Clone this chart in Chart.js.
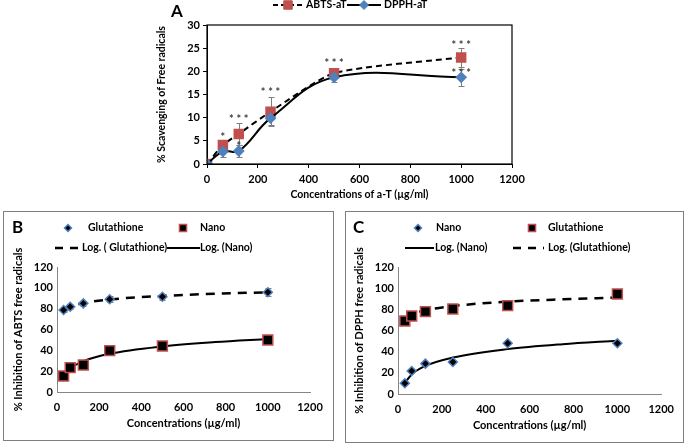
<!DOCTYPE html>
<html>
<head>
<meta charset="utf-8">
<script src="https://cdn.jsdelivr.net/npm/chart.js@4.4.1/dist/chart.umd.min.js"></script>
<style>
  body { margin: 0; background: #fff; width: 685px; height: 443px; position: relative; overflow: hidden; }
  canvas { display: block; }
  #boxA { position: absolute; left: 0; top: 0; }
  #boxB { position: absolute; left: 3px; top: 211px; width: 329px; height: 228px; border: 1px solid #7f7f7f; }
  #boxC { position: absolute; left: 345px; top: 211px; width: 337px; height: 230px; border: 1px solid #7f7f7f; }
</style>
</head>
<body>
<div id="boxA"><canvas id="chartA" width="685" height="205"></canvas></div>
<div id="boxB"><canvas id="chartB" width="329" height="228"></canvas></div>
<div id="boxC"><canvas id="chartC" width="337" height="230"></canvas></div>
<script>
// ==== Panneau A : alpha-tocopherol ====
const concA = [0, 62.5, 125, 250, 500, 1000];
const abtsA = [0, 4.1, 6.5, 11.3, 19.6, 23.0];
const abtsErrA = [0, 0.5, 2.3, 3.2, 1.1, 2.1];
const dpphA = [0, 2.7, 2.8, 9.9, 18.7, 18.7];
const dpphErrA = [0, 1.1, 1.3, 1.4, 1.1, 1.8];
const abtsStars = ['', '*', '***', '***', '***', '***'];
const abtsStarsY = [0, 6.3, 10.1, 16.0, 22.3, 26.1];
const dpphStars = ['', '', '*', '', '', '***'];
const dpphStarsY = [0, 0, 4.4, 0, 0, 20.1];

// ==== Panneaux B et C : concentrations ====
const concBC = [31.25, 62.5, 125, 250, 500, 1000];
const trendConc = [31.25, 62.5, 125, 250, 500, 750, 1000];

// B : ABTS
const glutB = [78.7, 81.9, 85.1, 89.0, 91.5, 95.7];
const glutErrB = [2, 2.5, 2.5, 3, 3, 4];
const nanoB = [15.4, 23.4, 25.9, 39.7, 44.2, 49.9];
const glutTrendB = [78.5, 81.9, 85.3, 88.8, 92.2, 94.3, 95.7];
const nanoTrendB = [15.5, 22.6, 29.6, 36.7, 43.8, 47.9, 50.8];

// C : DPPH
const nanoC = [10.1, 21.7, 28.7, 30.2, 47.9, 47.9];
const glutC = [69.0, 73.7, 77.8, 80.3, 83.5, 94.5];
const nanoTrendC = [10.5, 18.5, 26.5, 34.4, 42.4, 47.1, 50.4];
const glutTrendC = [71.0, 75.0, 79.1, 83.1, 87.2, 89.5, 91.2];

const ROUGE = '#C0504D';
const BLEU = '#4F81BD';
const POLICE = 'bold 10.5px Lato';

Chart.defaults.font.family = 'Lato';
Chart.defaults.font.weight = 'bold';
Chart.defaults.font.size = 10.5;
Chart.defaults.color = '#000';
Chart.defaults.animation = false;

function points(xs, ys) {
  return xs.map((v, i) => ({x: v, y: ys[i]}));
}

// barres d'erreur (derriere les marqueurs)
const barresErreur = {
  id: 'barresErreur',
  beforeDatasetsDraw(chart) {
    const {ctx, scales: {x, y}} = chart;
    ctx.save();
    ctx.strokeStyle = '#7f7f7f';
    ctx.lineWidth = 1;
    chart.data.datasets.forEach(ds => {
      if (!ds.erreurs) return;
      ds.data.forEach((p, i) => {
        const e = ds.erreurs[i];
        if (!e) return;
        const px = Math.round(x.getPixelForValue(p.x)) + 0.5;
        const yh = Math.round(y.getPixelForValue(p.y + e)) + 0.5;
        const yb = Math.round(y.getPixelForValue(p.y - e)) + 0.5;
        ctx.beginPath();
        ctx.moveTo(px, yh); ctx.lineTo(px, yb);
        ctx.moveTo(px - 3, yh); ctx.lineTo(px + 3, yh);
        ctx.moveTo(px - 3, yb); ctx.lineTo(px + 3, yb);
        ctx.stroke();
      });
    });
    ctx.restore();
  }
};

// legende dessinee a la main (style Excel)
const legende = {
  id: 'legende',
  afterDraw(chart, args, opts) {
    const ctx = chart.ctx;
    ctx.save();
    ctx.fillStyle = '#000';
    ctx.textBaseline = 'middle';
    if (opts.lettre) {
      ctx.font = 'bold 17px Lato';
      ctx.fillText(opts.lettre.texte, opts.lettre.x, opts.lettre.y);
    }
    (opts.items || []).forEach(it => {
      if (it.trait) {
        ctx.beginPath();
        ctx.setLineDash(it.trait.dash || []);
        ctx.lineWidth = it.trait.lw;
        ctx.strokeStyle = '#000';
        ctx.moveTo(it.trait.x1, it.y);
        ctx.lineTo(it.trait.x2, it.y);
        ctx.stroke();
        ctx.setLineDash([]);
      }
      if (it.marque) {
        const m = it.marque;
        ctx.fillStyle = m.fond;
        ctx.strokeStyle = m.bord;
        ctx.lineWidth = m.lw;
        Chart.helpers.drawPoint(ctx, {pointStyle: m.style, radius: m.r, borderWidth: m.lw, rotation: 0}, m.x, it.y);
      }
      ctx.font = POLICE;
      ctx.fillStyle = '#000';
      ctx.fillText(it.texte, it.tx, it.y);
    });
    ctx.restore();
  }
};

// ==== Graphique A ====
const cadreA = {
  id: 'cadreA',
  afterDraw(chart) {
    const {ctx, chartArea: {left, right, top, bottom}} = chart;
    ctx.save();
    ctx.strokeStyle = '#000';
    ctx.lineWidth = 1.2;
    ctx.strokeRect(left, top, right - left, bottom - top);
    ctx.restore();
  }
};

const etoiles = {
  id: 'etoiles',
  afterDatasetsDraw(chart) {
    const {ctx, scales: {x, y}} = chart;
    ctx.save();
    ctx.font = 'bold 11px Lato';
    ctx.fillStyle = '#404040';
    ctx.textAlign = 'center';
    ctx.textBaseline = 'alphabetic';
    [[abtsStars, abtsStarsY], [dpphStars, dpphStarsY]].forEach(([txt, pos]) => {
      txt.forEach((t, i) => {
        if (t) ctx.fillText(t.split('').join(' '), x.getPixelForValue(concA[i]), y.getPixelForValue(pos[i]) + 6);
      });
    });
    ctx.restore();
  }
};

new Chart(document.getElementById('chartA'), {
  type: 'scatter',
  data: {
    datasets: [
      {
        label: 'DPPH-aT', data: points(concA, dpphA), erreurs: dpphErrA, order: 0,
        showLine: true, tension: 0.4, borderColor: '#000', borderWidth: 2,
        pointStyle: 'rectRot', pointRadius: 4.5, pointBackgroundColor: BLEU, pointBorderColor: BLEU
      },
      {
        label: 'ABTS-aT', data: points(concA, abtsA), erreurs: abtsErrA, order: 1,
        showLine: true, tension: 0.2, borderColor: '#000', borderWidth: 2, borderDash: [6, 4],
        pointStyle: 'rect', pointRadius: 6, pointBackgroundColor: ROUGE, pointBorderColor: ROUGE
      }
    ]
  },
  options: {
    responsive: false,
    layout: {padding: {left: 155, right: 173, top: 25, bottom: 0}},
    plugins: {
      legend: {display: false},
      tooltip: {enabled: false},
      legende: {
        lettre: {texte: 'A', x: 171, y: 12},
        items: [
          {y: 5, trait: {x1: 273, x2: 303, lw: 2, dash: [5, 3]},
           marque: {style: 'rect', r: 6, x: 288, fond: ROUGE, bord: ROUGE, lw: 1}, texte: 'ABTS-aT', tx: 306},
          {y: 5, trait: {x1: 347, x2: 381, lw: 2},
           marque: {style: 'rectRot', r: 4.5, x: 364, fond: BLEU, bord: BLEU, lw: 1}, texte: 'DPPH-aT', tx: 384}
        ]
      }
    },
    scales: {
      x: {
        type: 'linear', min: 0, max: 1200,
        ticks: {stepSize: 200, padding: 5, font: {size: 11}, format: {useGrouping: false}},
        grid: {display: true, drawOnChartArea: false, drawTicks: true, tickLength: 4, color: '#000'},
        border: {color: '#000'},
        title: {display: true, text: 'Concentrations of a-T (µg/ml)', padding: {top: 0, bottom: 4}},
        afterFit(scale) { scale.height = 41; }
      },
      y: {
        min: 0, max: 30,
        ticks: {stepSize: 5, padding: 3, font: {size: 11}},
        grid: {display: true, drawOnChartArea: false, drawTicks: true, tickLength: 4, color: '#000'},
        border: {color: '#000'},
        title: {display: true, text: '% Scavenging of Free radicals', padding: {top: 0, bottom: 0}},
        afterFit(scale) { scale.width = 52; }
      }
    }
  },
  plugins: [barresErreur, etoiles, cadreA, legende]
});

// ==== Graphiques B et C ====
function axesBC(titreY, hauteurX) {
  return {
    x: {
      type: 'linear', min: 0, max: 1200,
      ticks: {stepSize: 200, padding: 9, font: {size: 11}, format: {useGrouping: false}},
      grid: {display: false, drawTicks: false},
      border: {color: '#868686'},
      title: {display: true, text: 'Concentrations (µg/ml)', font: {size: 11}, padding: {top: 0, bottom: 10}},
      afterFit(scale) { scale.height = hauteurX; }
    },
    y: {
      min: 0, max: 120,
      ticks: {stepSize: 20, padding: 4, font: {size: 11}},
      grid: {display: false, drawTicks: false},
      border: {color: '#868686'},
      title: {display: true, text: titreY, font: {size: 11}, padding: {top: 0, bottom: 0}},
      afterFit(scale) { scale.width = 45; }
    }
  };
}

new Chart(document.getElementById('chartB'), {
  type: 'scatter',
  data: {
    datasets: [
      {
        label: 'Glutathione', data: points(concBC, glutB), erreurs: glutErrB,
        pointStyle: 'rectRot', pointRadius: 4.5, pointBackgroundColor: '#000', pointBorderColor: BLEU, pointBorderWidth: 1.5
      },
      {
        label: 'Nano', data: points(concBC, nanoB),
        pointStyle: 'rect', pointRadius: 7, pointBackgroundColor: '#000', pointBorderColor: ROUGE, pointBorderWidth: 1.5
      },
      {
        label: 'Log. ( Glutathione)', data: points(trendConc, glutTrendB), order: 2,
        showLine: true, cubicInterpolationMode: 'monotone', pointRadius: 0,
        borderColor: '#000', borderWidth: 2.5, borderDash: [9, 7]
      },
      {
        label: 'Log. (Nano)', data: points(trendConc, nanoTrendB), order: 2,
        showLine: true, cubicInterpolationMode: 'monotone', pointRadius: 0,
        borderColor: '#000', borderWidth: 2
      }
    ]
  },
  options: {
    responsive: false,
    layout: {padding: {left: 8, right: 23, top: 55, bottom: 0}},
    plugins: {
      legend: {display: false},
      tooltip: {enabled: false},
      legende: {
        lettre: {texte: 'B', x: 8, y: 16},
        items: [
          {y: 16, marque: {style: 'rectRot', r: 3.5, x: 64, fond: '#000', bord: BLEU, lw: 1.5}, texte: 'Glutathione', tx: 84},
          {y: 16, marque: {style: 'rect', r: 5, x: 179, fond: '#000', bord: ROUGE, lw: 1.5}, texte: 'Nano', tx: 196},
          {y: 36, trait: {x1: 51, x2: 75, lw: 2.5, dash: [8, 7]}, texte: 'Log. ( Glutathione)', tx: 78},
          {y: 36, trait: {x1: 163, x2: 196, lw: 2}, texte: 'Log. (Nano)', tx: 196}
        ]
      }
    },
    scales: axesBC('% Inhibition of ABTS free radicals', 48)
  },
  plugins: [barresErreur, legende]
});

new Chart(document.getElementById('chartC'), {
  type: 'scatter',
  data: {
    datasets: [
      {
        label: 'Nano', data: points(concBC, nanoC),
        pointStyle: 'rectRot', pointRadius: 4.5, pointBackgroundColor: '#000', pointBorderColor: BLEU, pointBorderWidth: 1.5
      },
      {
        label: 'Glutathione', data: points(concBC, glutC),
        pointStyle: 'rect', pointRadius: 7, pointBackgroundColor: '#000', pointBorderColor: ROUGE, pointBorderWidth: 1.5
      },
      {
        label: 'Log. (Nano)', data: points(trendConc, nanoTrendC), order: 2,
        showLine: true, cubicInterpolationMode: 'monotone', pointRadius: 0,
        borderColor: '#000', borderWidth: 2
      },
      {
        label: 'Log. (Glutathione)', data: points(trendConc, glutTrendC), order: 2,
        showLine: true, cubicInterpolationMode: 'monotone', pointRadius: 0,
        borderColor: '#000', borderWidth: 2.5, borderDash: [9, 7]
      }
    ]
  },
  options: {
    responsive: false,
    layout: {padding: {left: 7, right: 21, top: 55, bottom: 0}},
    plugins: {
      legend: {display: false},
      tooltip: {enabled: false},
      legende: {
        lettre: {texte: 'C', x: 7, y: 16},
        items: [
          {y: 16, marque: {style: 'rectRot', r: 3.5, x: 72, fond: '#000', bord: BLEU, lw: 1.5}, texte: 'Nano', tx: 90},
          {y: 16, marque: {style: 'rect', r: 5, x: 186, fond: '#000', bord: ROUGE, lw: 1.5}, texte: 'Glutathione', tx: 202},
          {y: 36, trait: {x1: 59, x2: 88, lw: 2}, texte: 'Log. (Nano)', tx: 89},
          {y: 36, trait: {x1: 167, x2: 198, lw: 2.5, dash: [8, 7]}, texte: 'Log. (Glutathione)', tx: 202}
        ]
      }
    },
    scales: axesBC('% Inhibition of DPPH free radicals', 48)
  },
  plugins: [legende]
});
</script>
</body>
</html>
